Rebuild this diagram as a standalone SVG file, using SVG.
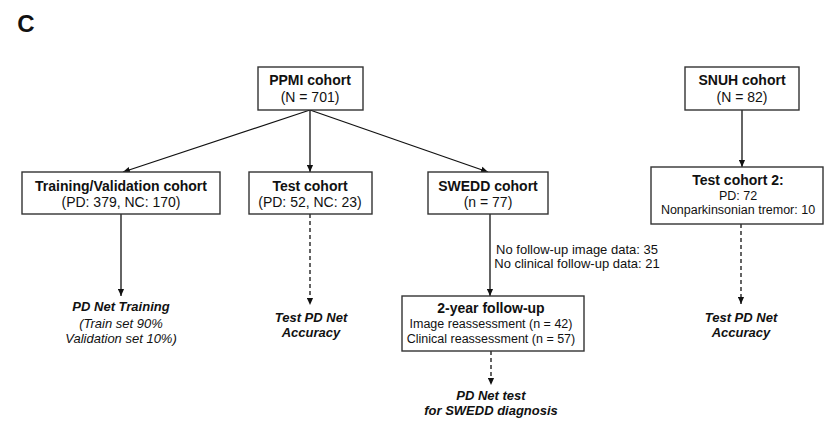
<svg xmlns="http://www.w3.org/2000/svg" width="825" height="421" viewBox="0 0 825 421">
<style>
text{font-family:"Liberation Sans",Arial,sans-serif;fill:#111;text-anchor:middle}
.b{font-weight:bold;font-size:14px}
.r{font-size:14px}
.s{font-size:12.5px}
.n{font-size:13px}
.bi{font-weight:bold;font-style:italic;font-size:13px}
.i{font-style:italic;font-size:13px}
.box{fill:#fff;stroke:#333;stroke-width:1.4}
.ln{stroke:#111;stroke-width:1.3;fill:none;marker-end:url(#ah)}
.d{stroke-dasharray:4 3}
</style>
<defs>
<marker id="ah" viewBox="0 0 8 8" refX="8" refY="4" markerWidth="7" markerHeight="7" markerUnits="userSpaceOnUse" orient="auto">
<path d="M0,0.5 L8,4 L0,7.5 z" fill="#111"/>
</marker>
</defs>
<text x="26" y="32" style="font-weight:bold;font-size:24px">C</text>
<g id="connectors">
<line class="ln" x1="310" y1="110" x2="123" y2="172"/>
<line class="ln" x1="310" y1="110" x2="310" y2="172"/>
<line class="ln" x1="310" y1="110" x2="488" y2="172"/>
<line class="ln" x1="742" y1="110" x2="742" y2="167"/>
<line class="ln" x1="121" y1="214" x2="121" y2="296"/>
<line class="ln d" x1="310" y1="214" x2="310" y2="305"/>
<line class="ln" x1="490" y1="214" x2="490" y2="296"/>
<line class="ln d" x1="491" y1="351" x2="491" y2="385"/>
<line class="ln d" x1="741" y1="224" x2="741" y2="304"/>
</g>
<g id="ppmi">
<rect class="box" x="258" y="67" width="105" height="43"/>
<text class="b" x="310" y="85">PPMI cohort</text>
<text class="r" x="310" y="102">(N = 701)</text>
</g>
<g id="snuh">
<rect class="box" x="685" y="67" width="114" height="43"/>
<text class="b" x="742" y="85">SNUH cohort</text>
<text class="r" x="742" y="102">(N = 82)</text>
</g>
<g id="training">
<rect class="box" x="22" y="172" width="198" height="42"/>
<text class="b" x="121" y="191">Training/Validation cohort</text>
<text class="r" x="121" y="207">(PD: 379, NC: 170)</text>
</g>
<g id="test">
<rect class="box" x="249" y="172" width="123" height="42"/>
<text class="b" x="310" y="191">Test cohort</text>
<text class="r" x="310" y="207">(PD: 52, NC: 23)</text>
</g>
<g id="swedd">
<rect class="box" x="428" y="172" width="120" height="42"/>
<text class="b" x="488" y="191">SWEDD cohort</text>
<text class="r" x="488" y="207">(n = 77)</text>
</g>
<g id="test2">
<rect class="box" x="651" y="167" width="172" height="57"/>
<text class="b" x="738" y="185">Test cohort 2:</text>
<text class="s" x="738" y="200">PD: 72</text>
<text class="s" x="738" y="214">Nonparkinsonian tremor: 10</text>
</g>
<g id="exclusion">
<text class="n" x="577" y="254">No follow-up image data: 35</text>
<text class="n" x="577" y="268">No clinical follow-up data: 21</text>
</g>
<g id="followup">
<rect class="box" x="402" y="296" width="182" height="55"/>
<text class="b" x="491" y="313">2-year follow-up</text>
<text class="s" x="491" y="328">Image reassessment (n = 42)</text>
<text class="s" x="491" y="343">Clinical reassessment (n = 57)</text>
</g>
<g id="pdnet-training">
<text class="bi" x="121" y="311">PD Net Training</text>
<text class="i" x="121" y="328">(Train set 90%</text>
<text class="i" x="121" y="343">Validation set 10%)</text>
</g>
<g id="test-accuracy">
<text class="bi" x="311" y="322">Test PD Net</text>
<text class="bi" x="311" y="337">Accuracy</text>
</g>
<g id="swedd-test">
<text class="bi" x="491" y="400">PD Net test</text>
<text class="bi" x="491" y="415">for SWEDD diagnosis</text>
</g>
<g id="test2-accuracy">
<text class="bi" x="741" y="322">Test PD Net</text>
<text class="bi" x="741" y="337">Accuracy</text>
</g>
</svg>
